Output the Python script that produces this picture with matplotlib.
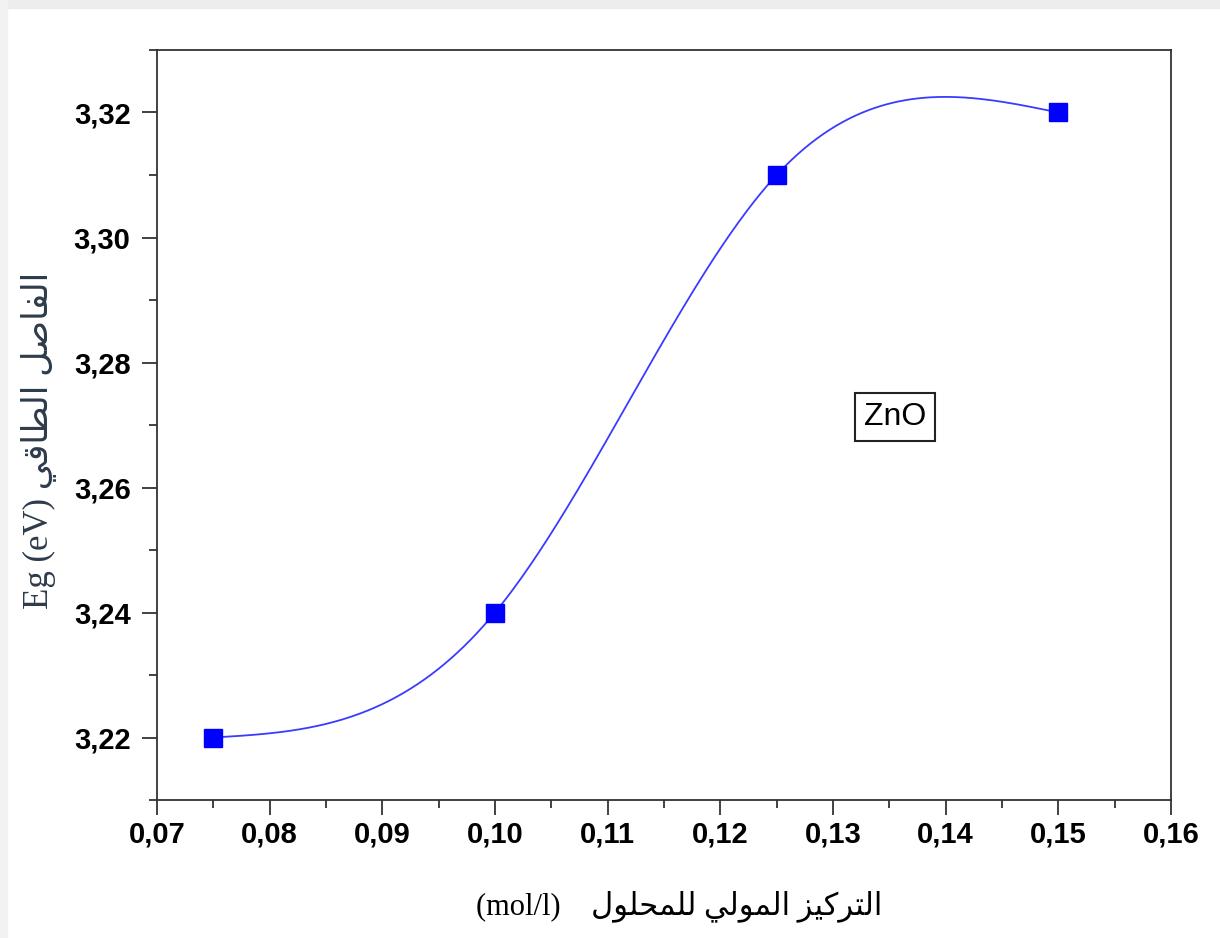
import matplotlib
matplotlib.use("Agg")
import matplotlib.pyplot as plt
from matplotlib.patches import Rectangle
from matplotlib.ticker import MultipleLocator, FuncFormatter
import numpy as np

# data
concentration = [0.075, 0.100, 0.125, 0.150]   # mol/l
gap_energy = [3.22, 3.24, 3.31, 3.32]          # eV

# Arabic text in shaped presentation forms, visual (left to right) order,
# because matplotlib does no bidi / shaping on its own
ar_gap = ("\uFEF2\uFED7\uFE8E\uFEC4\uFEDF\uFE8D" + " "
          + "\uFEDE\uFEBB\uFE8E\uFED4\uFEDF\uFE8D")            # الفاصل الطاقي
ar_conc = ("\uFEDD\uFEEE\uFEE0\uFEA4\uFEE4\uFEE0\uFEDF" + " "
           + "\uFEF2\uFEDF\uFEEE\uFEE4\uFEDF\uFE8D" + " "
           + "\uFEB0\uFEF4\uFEDB\uFEAE\uFE98\uFEDF\uFE8D")     # التركيز المولي للمحلول
ylabel_text = "Eg (eV) " + ar_gap
xlabel_text = "(mol/l)    " + ar_conc


def natural_spline(x, y, n=400):
    # natural cubic spline through the points (the smooth line of the plot)
    x = np.asarray(x, float)
    y = np.asarray(y, float)
    h = np.diff(x)
    k = len(x)
    A = np.zeros((k, k))
    b = np.zeros(k)
    A[0, 0] = A[-1, -1] = 1
    for i in range(1, k - 1):
        A[i, i - 1] = h[i - 1] / 6
        A[i, i] = (h[i - 1] + h[i]) / 3
        A[i, i + 1] = h[i] / 6
        b[i] = (y[i + 1] - y[i]) / h[i] - (y[i] - y[i - 1]) / h[i - 1]
    M = np.linalg.solve(A, b)
    xs = np.linspace(x[0], x[-1], n)
    idx = np.clip(np.searchsorted(x, xs) - 1, 0, k - 2)
    x0, x1 = x[idx], x[idx + 1]
    hh = x1 - x0
    a = (x1 - xs) / hh
    c = (xs - x0) / hh
    ys = (a * y[idx] + c * y[idx + 1]
          + ((a ** 3 - a) * M[idx] + (c ** 3 - c) * M[idx + 1]) * hh ** 2 / 6)
    return xs, ys


fig = plt.figure(figsize=(12.2, 9.38), dpi=100)
ax = fig.add_axes([0.1287, 0.1471, 0.8311, 0.7996])

# light screenshot border
fig.patches.append(Rectangle((0, 0.992), 1, 0.008, transform=fig.transFigure,
                             color="#ededed", zorder=-1))
fig.patches.append(Rectangle((0, 0), 0.006, 1, transform=fig.transFigure,
                             color="#f2f2f2", zorder=-1))

xs, ys = natural_spline(concentration, gap_energy)
ax.plot(xs, ys, color="#3b3bff", lw=1.3, zorder=2)
ax.plot(concentration, gap_energy, ls="none", marker="s", ms=13.5,
        color="#0000ff", zorder=3)

ax.set_xlim(0.07, 0.16)
ax.set_ylim(3.21, 3.33)
ax.xaxis.set_major_locator(MultipleLocator(0.01))
ax.xaxis.set_minor_locator(MultipleLocator(0.005))
ax.yaxis.set_major_locator(MultipleLocator(0.02))
ax.yaxis.set_minor_locator(MultipleLocator(0.01))
ax.xaxis.set_major_formatter(FuncFormatter(lambda v, p: f"{v:.2f}".replace(".", ",")))
ax.yaxis.set_major_formatter(FuncFormatter(lambda v, p: f"{v:.2f}".replace(".", ",")))

for s in ax.spines.values():
    s.set_linewidth(1.3)
    s.set_color("#333333")
ax.tick_params(which="both", direction="out", top=False, right=False,
               color="#333333", width=1.3)
ax.tick_params(which="major", length=11)
ax.tick_params(which="minor", length=6)
ax.tick_params(axis="x", pad=4)
ax.tick_params(axis="y", pad=8)
for lab in ax.get_xticklabels() + ax.get_yticklabels():
    lab.set_fontfamily("Liberation Sans")
    lab.set_fontweight("bold")
    lab.set_fontsize(21)

ax.text(0.1355, 3.2713, "ZnO", fontsize=23, family="Liberation Sans",
        ha="center", va="center",
        bbox=dict(boxstyle="square,pad=0.28", fc="white", ec="#222222", lw=1.5))

ax.set_xlabel(xlabel_text, family=["Liberation Serif", "DejaVu Sans"],
              fontsize=22, labelpad=30)
ax.xaxis.label.set_x(0.515)
ax.set_ylabel(ylabel_text, family=["Liberation Serif", "DejaVu Sans"],
              fontsize=25, color="#2e3b4a", labelpad=12)
ax.yaxis.label.set_y(0.48)

fig.savefig("out.png", dpi=100, facecolor="white")
